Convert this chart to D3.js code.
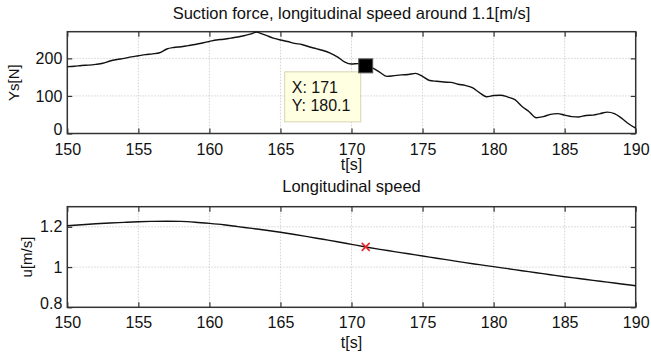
<!DOCTYPE html>
<html>
<head>
<meta charset="utf-8">
<script src="https://cdn.jsdelivr.net/npm/d3@7"></script>
<style>
body { margin: 0; background: #fff; }
svg { font-family: "Liberation Sans", Arial, sans-serif; }
.axis path { display: none; }
.axis line { stroke: #333; stroke-width: 1.2; }
.axis text { fill: #111; font-size: 16px; }
.grid line { stroke: #c8c8c8; stroke-width: 0.8; stroke-dasharray: 1.5,1.5; }
</style>
</head>
<body>
<script>
// suction force Ys[N] against time t[s]
const forceT = [150, 150.5, 151, 151.5, 152, 152.5, 153, 153.5, 154, 154.5, 155, 155.5, 156, 156.5, 157, 157.5, 158, 158.5, 159, 159.5,
    160, 160.5, 161, 161.5, 162, 162.5, 163, 163.3, 163.7, 164, 164.5, 165, 165.5, 166, 166.5, 167, 167.5, 168, 168.5, 169, 169.5,
    170, 170.5, 171, 171.5, 172, 172.5, 173, 173.5, 174, 174.5, 175, 175.5, 176, 176.5, 177, 177.5, 178, 178.5, 179, 179.5,
    180, 180.5, 181, 181.5, 182, 182.5, 183, 183.5, 184, 184.5, 185, 185.5, 186, 186.5, 187, 187.5, 188, 188.5, 189, 189.5, 190];
const forceYs = [178, 179, 181, 182, 184, 187, 193, 197, 200, 204, 207, 210, 212, 215, 225, 229, 231, 234, 237, 241,
    245, 249, 251, 254, 257, 261, 266, 270, 265, 261, 254, 249, 245, 240, 237, 231, 226, 221, 214, 204, 191,
    185, 186, 180.1, 174, 163, 152, 154, 156, 157, 160, 152, 141, 139, 137, 136, 131, 128, 122, 109, 98,
    101, 102, 97, 90, 72, 58, 42, 45, 51, 53, 49, 45, 44, 48, 49, 53, 57, 53, 41, 26, 14];

// longitudinal speed u[m/s]
const speedT = [150, 151, 152, 153, 154, 155, 156, 157, 158, 159, 160, 161, 162, 163, 164, 165, 166, 167, 168, 169, 170,
    171, 172, 173, 174, 175, 176, 177, 178, 179, 180, 181, 182, 183, 184, 185, 186, 187, 188, 189, 190];
const speedU = [1.205, 1.21, 1.215, 1.219, 1.222, 1.225, 1.227, 1.228, 1.227, 1.223, 1.217, 1.21, 1.201, 1.192, 1.183, 1.173,
    1.162, 1.15, 1.138, 1.126, 1.113, 1.1, 1.088, 1.077, 1.066, 1.055, 1.044, 1.033, 1.022, 1.012, 1.002,
    0.992, 0.982, 0.972, 0.962, 0.952, 0.943, 0.934, 0.925, 0.916, 0.907];

const tTicks = [150, 155, 160, 165, 170, 175, 180, 185, 190];
const forceTicks = [0, 100, 200];
const speedTicks = [0.8, 1, 1.2];
const tipT = 171, tipYs = 180.1, tipU = 1.1;

const w = 651, h = 355;
const left = 67.3, right = 635.7;

const svg = d3.select("body").append("svg")
    .attr("width", w)
    .attr("height", h);

const xScale = d3.scaleLinear().domain([150, 190]).range([left, right]);

function panel(top, bottom, yDomain, yTicks, fmt, title, titleY, ylabel, ylabelX, tickLabelY, xlabelY) {
    const yScale = d3.scaleLinear().domain(yDomain).range([bottom, top]);
    const g = svg.append("g");

    // grid
    g.append("g").attr("class", "grid")
        .selectAll("line.v").data(tTicks.slice(1, -1)).enter().append("line")
        .attr("x1", d => xScale(d)).attr("x2", d => xScale(d))
        .attr("y1", top).attr("y2", bottom);
    g.append("g").attr("class", "grid")
        .selectAll("line.h").data(yTicks.slice(1)).enter().append("line")
        .attr("x1", left).attr("x2", right)
        .attr("y1", d => yScale(d)).attr("y2", d => yScale(d));

    // inward ticks on all four sides
    g.append("g").attr("class", "axis")
        .attr("transform", "translate(0," + bottom + ")")
        .call(d3.axisBottom(xScale).tickValues(tTicks).tickSize(-5).tickFormat(d3.format("d")))
        .selectAll("text").attr("y", tickLabelY - bottom).attr("dy", 0);
    g.append("g").attr("class", "axis")
        .attr("transform", "translate(0," + top + ")")
        .call(d3.axisTop(xScale).tickValues(tTicks).tickSize(-5).tickFormat(""));
    g.append("g").attr("class", "axis")
        .attr("transform", "translate(" + left + ",0)")
        .call(d3.axisLeft(yScale).tickValues(yTicks).tickSize(-5).tickPadding(5).tickFormat(fmt))
        .selectAll("text").filter((d, i) => i === 0)
        .attr("dy", "0.05em");
    g.append("g").attr("class", "axis")
        .attr("transform", "translate(" + right + ",0)")
        .call(d3.axisRight(yScale).tickValues(yTicks).tickSize(-5).tickFormat(""));

    // frame
    g.append("rect")
        .attr("x", left).attr("y", top)
        .attr("width", right - left).attr("height", bottom - top)
        .attr("fill", "none").attr("stroke", "#333").attr("stroke-width", 1.5);

    g.append("text")
        .attr("x", (left + right) / 2).attr("y", titleY)
        .attr("text-anchor", "middle").attr("font-size", 16.5).attr("fill", "#111")
        .text(title);
    g.append("text")
        .attr("transform", "translate(" + ylabelX + "," + ((top + bottom) / 2) + ") rotate(-90)")
        .attr("text-anchor", "middle").attr("font-size", 15).attr("fill", "#111")
        .text(ylabel);
    g.append("text")
        .attr("x", (left + right) / 2).attr("y", xlabelY)
        .attr("text-anchor", "middle").attr("font-size", 16).attr("fill", "#111")
        .text("t[s]");
    return { g: g, yScale: yScale };
}

// top panel: suction force
const p1 = panel(31.7, 133.5, [0, 271], forceTicks, d3.format("d"),
    "Suction force, longitudinal speed around 1.1[m/s]", 19, "Ys[N]", 19, 154.5, 170);
p1.g.append("path")
    .datum(forceT.map((t, i) => [t, forceYs[i]]))
    .attr("fill", "none").attr("stroke", "#111").attr("stroke-width", 1.4)
    .attr("stroke-linejoin", "round")
    .attr("d", d3.line().x(d => xScale(d[0])).y(d => p1.yScale(d[1])).curve(d3.curveMonotoneX));

// data tip
const tipX = xScale(tipT), tipY = p1.yScale(tipYs);
p1.g.append("rect")
    .attr("x", tipX - 81).attr("y", tipY + 6)
    .attr("width", 76).attr("height", 50)
    .attr("fill", "#ffffe1").attr("stroke", "#d8d4b0").attr("stroke-width", 1);
p1.g.append("text")
    .attr("x", tipX - 74).attr("y", tipY + 27)
    .attr("font-size", 16).attr("fill", "#111")
    .text("X: " + tipT);
p1.g.append("text")
    .attr("x", tipX - 74).attr("y", tipY + 45)
    .attr("font-size", 16).attr("fill", "#111")
    .text("Y: " + tipYs);
p1.g.append("rect")
    .attr("x", tipX - 7).attr("y", tipY - 7)
    .attr("width", 14).attr("height", 14)
    .attr("fill", "#000").attr("stroke", "#555").attr("stroke-width", 1);

// bottom panel: longitudinal speed
const p2 = panel(206.7, 307.3, [0.8, 1.3], speedTicks, d => d === 1 ? "1" : d3.format(".1f")(d),
    "Longitudinal speed", 192, "u[m/s]", 32, 328.5, 348);
p2.g.append("path")
    .datum(speedT.map((t, i) => [t, speedU[i]]))
    .attr("fill", "none").attr("stroke", "#111").attr("stroke-width", 1.4)
    .attr("d", d3.line().x(d => xScale(d[0])).y(d => p2.yScale(d[1])).curve(d3.curveMonotoneX));

// red cross marker
const cx = xScale(tipT), cy = p2.yScale(tipU);
p2.g.append("path")
    .attr("d", "M" + (cx - 4) + "," + (cy - 4) + "L" + (cx + 4) + "," + (cy + 4) +
        "M" + (cx - 4) + "," + (cy + 4) + "L" + (cx + 4) + "," + (cy - 4))
    .attr("stroke", "#e8262a").attr("stroke-width", 1.6);
</script>
</body>
</html>
